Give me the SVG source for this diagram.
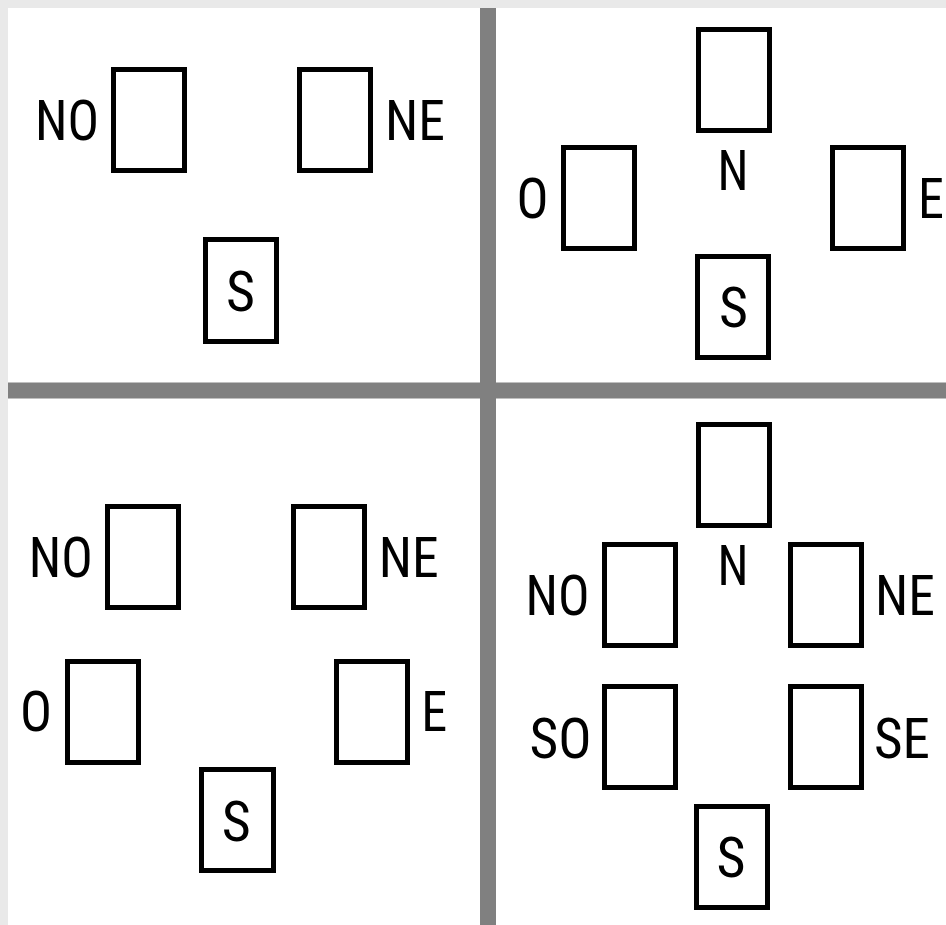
<svg xmlns="http://www.w3.org/2000/svg" width="946" height="925" viewBox="0 0 946 925">
  <style>
    .box { fill: #ffffff; stroke: #000000; stroke-width: 5; }
    .lbl { font-family: "Roboto Condensed", Roboto, "Liberation Sans", sans-serif; font-stretch: condensed; font-size: 56px; fill: #000000; text-anchor: middle; }
    .div { fill: #808080; }
  </style>

  <!-- page background and white sheet -->
  <rect x="0" y="0" width="946" height="925" fill="#e9e9e9"/>
  <rect x="8" y="8" width="938" height="917" fill="#ffffff"/>

  <!-- quadrant dividers -->
  <g id="dividers">
    <rect class="div" x="480" y="8" width="16" height="917"/>
    <rect class="div" x="8" y="382.5" width="938" height="16"/>
  </g>

  <!-- quadrant 1: NO / NE / S -->
  <g id="q1">
    <g id="q1-no"><rect class="box" x="113.5" y="69.5" width="71" height="101"/><text class="lbl" x="67" y="140" textLength="64" lengthAdjust="spacingAndGlyphs">NO</text></g>
    <g id="q1-ne"><rect class="box" x="299.5" y="69.5" width="71" height="101"/><text class="lbl" x="415" y="140" textLength="60" lengthAdjust="spacingAndGlyphs">NE</text></g>
    <g id="q1-s"><rect class="box" x="205.5" y="239.5" width="71" height="102"/><text class="lbl" x="240.5" y="310.5" textLength="29" lengthAdjust="spacingAndGlyphs">S</text></g>
  </g>

  <!-- quadrant 2: N / O / E / S -->
  <g id="q2">
    <g id="q2-n"><rect class="box" x="698.5" y="29.5" width="71" height="101"/><text class="lbl" x="733" y="190" textLength="31" lengthAdjust="spacingAndGlyphs">N</text></g>
    <g id="q2-o"><rect class="box" x="563.5" y="147.5" width="71" height="101"/><text class="lbl" x="532.5" y="218" textLength="32" lengthAdjust="spacingAndGlyphs">O</text></g>
    <g id="q2-e"><rect class="box" x="832.5" y="147.5" width="71" height="101"/><text class="lbl" x="931" y="218" textLength="26" lengthAdjust="spacingAndGlyphs">E</text></g>
    <g id="q2-s"><rect class="box" x="697.5" y="256.5" width="71" height="101"/><text class="lbl" x="733.5" y="327" textLength="29" lengthAdjust="spacingAndGlyphs">S</text></g>
  </g>

  <!-- quadrant 3: NO / NE / O / E / S -->
  <g id="q3">
    <g id="q3-no"><rect class="box" x="107.5" y="506.5" width="71" height="101"/><text class="lbl" x="60.7" y="577" textLength="64" lengthAdjust="spacingAndGlyphs">NO</text></g>
    <g id="q3-ne"><rect class="box" x="293.5" y="506.5" width="71" height="101"/><text class="lbl" x="408.7" y="577" textLength="60" lengthAdjust="spacingAndGlyphs">NE</text></g>
    <g id="q3-o"><rect class="box" x="67.5" y="661.5" width="71" height="101"/><text class="lbl" x="36" y="731" textLength="32" lengthAdjust="spacingAndGlyphs">O</text></g>
    <g id="q3-e"><rect class="box" x="336.5" y="661.5" width="71" height="101"/><text class="lbl" x="434.3" y="731" textLength="26" lengthAdjust="spacingAndGlyphs">E</text></g>
    <g id="q3-s"><rect class="box" x="201.5" y="769.5" width="72" height="101"/><text class="lbl" x="236.3" y="840.5" textLength="29" lengthAdjust="spacingAndGlyphs">S</text></g>
  </g>

  <!-- quadrant 4: N / NO / NE / SO / SE / S -->
  <g id="q4">
    <g id="q4-n"><rect class="box" x="698.5" y="424.5" width="71" height="101"/><text class="lbl" x="733" y="585" textLength="31" lengthAdjust="spacingAndGlyphs">N</text></g>
    <g id="q4-no"><rect class="box" x="604.5" y="544.5" width="71" height="101"/><text class="lbl" x="557.5" y="615" textLength="64" lengthAdjust="spacingAndGlyphs">NO</text></g>
    <g id="q4-ne"><rect class="box" x="790.5" y="544.5" width="71" height="101"/><text class="lbl" x="905" y="615" textLength="60" lengthAdjust="spacingAndGlyphs">NE</text></g>
    <g id="q4-so"><rect class="box" x="604.5" y="686.5" width="71" height="101"/><text class="lbl" x="560.5" y="758" textLength="62" lengthAdjust="spacingAndGlyphs">SO</text></g>
    <g id="q4-se"><rect class="box" x="790.5" y="686.5" width="71" height="101"/><text class="lbl" x="902" y="758" textLength="56" lengthAdjust="spacingAndGlyphs">SE</text></g>
    <g id="q4-s"><rect class="box" x="696.5" y="806.5" width="71" height="101"/><text class="lbl" x="731" y="877" textLength="29" lengthAdjust="spacingAndGlyphs">S</text></g>
  </g>

  <!-- no connectors are drawn in this figure -->
  <g id="connectors"/>
</svg>
